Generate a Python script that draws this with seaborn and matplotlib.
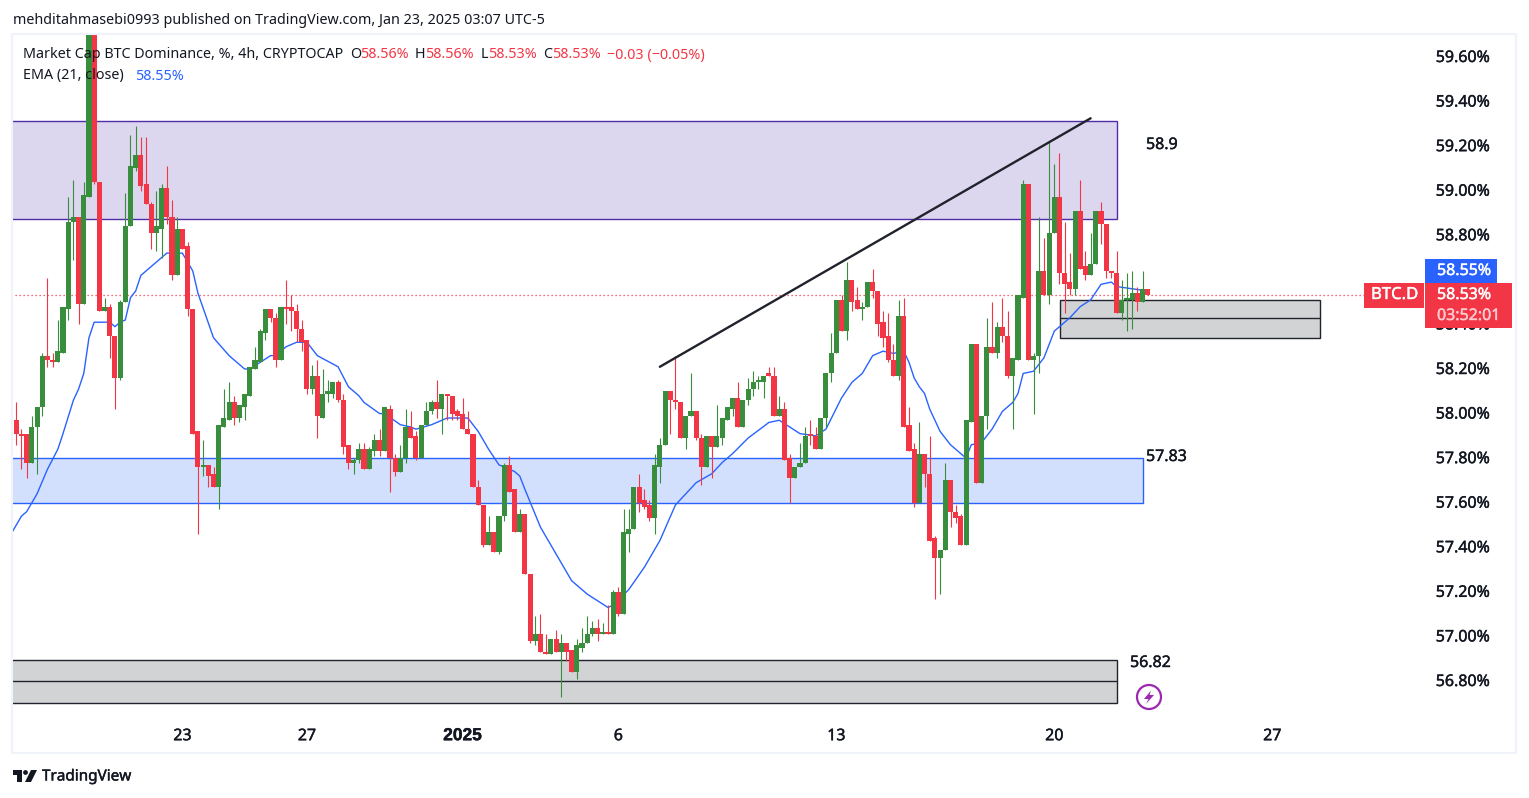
import matplotlib
matplotlib.use('Agg')
from matplotlib import pyplot as plt
from matplotlib import patheffects as pe
from matplotlib.patches import Rectangle, Circle, Polygon
from matplotlib.transforms import ScaledTranslation
import numpy as np
import pandas as pd
import seaborn as sns

sns.set_theme(style='white')
plt.rcParams['font.family'] = ['Noto Sans', 'DejaVu Sans']

# candles, 4h bars
opens = [57.97,57.91,57.91,57.78,57.94,58.03,58.26,58.24,58.23,58.27,
         58.47,58.86,58.88,58.49,58.97,59.78,59.04,58.46,58.48,58.35,
         58.16,58.50,58.84,59.10,59.16,59.03,58.94,58.81,58.83,59.01,
         58.88,58.62,58.83,58.75,58.47,57.92,57.76,57.77,57.73,57.67,
         57.94,57.97,58.05,57.98,58.03,58.08,58.20,58.23,58.36,58.47,
         58.43,58.24,58.48,58.48,58.46,58.38,58.33,58.11,58.17,57.98,
         58.09,58.09,58.14,58.06,57.86,57.78,57.79,57.84,57.75,57.83,
         57.88,57.83,58.02,57.80,57.74,57.80,57.94,57.90,57.80,57.95,
         58.01,58.05,58.02,58.09,58.08,58.01,58.00,57.93,57.91,57.67,
         57.59,57.41,57.47,57.38,57.54,57.77,57.66,57.47,57.55,57.28,
         56.98,57.01,56.93,56.92,56.99,56.93,56.97,56.94,56.84,56.95,
         56.97,57.01,57.04,57.01,57.02,57.01,57.20,57.10,57.46,57.48,
         57.67,57.61,57.59,57.53,57.76,57.86,58.10,58.06,58.05,57.89,
         57.99,58.01,57.89,57.76,57.90,57.85,57.89,57.97,58.02,58.07,
         57.94,58.06,58.11,58.14,58.14,58.18,58.17,57.99,58.02,57.80,
         57.71,57.76,57.78,57.91,57.90,57.84,57.98,58.18,58.27,58.51,
         58.37,58.60,58.51,58.47,58.48,58.59,58.55,58.41,58.35,58.24,
         58.17,58.44,57.95,57.84,57.60,57.82,57.73,57.44,57.35,57.39,
         57.70,57.56,57.54,57.41,57.96,58.31,57.69,57.99,58.30,58.27,
         58.39,58.35,58.17,58.24,58.52,59.03,58.24,58.26,58.64,58.53,
         58.81,58.97,58.63,58.59,58.56,58.91,58.66,58.62,58.67,58.91,
         58.85,58.64,58.63,58.45,58.51,58.51,58.54,58.50,58.56]
closes = [57.91,57.90,57.78,57.94,58.03,58.26,58.24,58.23,58.28,58.48,
          58.86,58.88,58.49,58.98,59.78,59.04,58.46,58.48,58.35,58.16,
          58.50,58.84,59.11,59.16,59.02,58.94,58.81,58.84,59.01,58.88,
          58.62,58.83,58.74,58.47,57.91,57.76,57.77,57.72,57.67,57.95,
          57.98,58.05,57.98,58.04,58.09,58.21,58.24,58.37,58.47,58.43,
          58.24,58.48,58.47,58.46,58.38,58.32,58.11,58.17,57.99,58.09,
          58.10,58.14,58.06,57.85,57.78,57.79,57.84,57.75,57.84,57.88,
          57.83,58.03,57.80,57.74,57.80,57.94,57.89,57.80,57.95,58.01,
          58.05,58.02,58.09,58.08,58.00,57.99,57.93,57.91,57.67,57.59,
          57.41,57.47,57.38,57.54,57.77,57.65,57.47,57.55,57.28,56.98,
          57.01,56.93,56.92,56.99,56.93,56.97,56.93,56.84,56.96,56.97,
          57.01,57.04,57.01,57.02,57.01,57.20,57.10,57.47,57.48,57.67,
          57.60,57.58,57.53,57.77,57.86,58.10,58.06,58.05,57.89,57.99,
          58.01,57.89,57.76,57.90,57.85,57.90,57.98,58.03,58.07,57.94,
          58.06,58.11,58.14,58.15,58.17,58.17,57.99,58.02,57.79,57.71,
          57.76,57.78,57.90,57.90,57.84,57.98,58.18,58.27,58.51,58.37,
          58.60,58.50,58.47,58.48,58.59,58.55,58.40,58.34,58.24,58.17,
          58.44,57.94,57.83,57.60,57.82,57.73,57.43,57.35,57.39,57.70,
          57.56,57.53,57.41,57.97,58.31,57.69,57.99,58.30,58.27,58.39,
          58.35,58.17,58.25,58.53,59.03,58.24,58.26,58.64,58.53,58.81,
          58.97,58.63,58.58,58.56,58.91,58.65,58.62,58.67,58.91,58.85,
          58.64,58.63,58.45,58.51,58.52,58.54,58.50,58.56,58.53]
highs = [58.05,57.93,57.91,57.99,58.03,58.27,58.61,58.27,58.42,58.48,
         58.97,59.05,58.88,59.04,59.85,59.80,59.04,58.52,58.49,58.35,
         58.51,58.99,59.25,59.29,59.24,59.24,58.95,59.00,59.03,59.11,
         58.96,58.88,58.83,58.77,58.47,57.92,57.88,57.77,57.76,57.95,
         58.11,58.14,58.08,58.04,58.09,58.21,58.30,58.38,58.47,58.47,
         58.45,58.48,58.60,58.53,58.49,58.42,58.33,58.22,58.24,58.20,
         58.15,58.14,58.15,58.09,57.86,57.80,57.87,57.87,57.85,57.91,
         57.93,58.03,58.04,57.82,57.86,58.02,58.01,57.92,57.95,58.05,
         58.06,58.15,58.09,58.09,58.08,58.02,58.07,58.01,57.91,57.70,
         57.59,57.54,57.47,57.54,57.78,57.81,57.66,57.57,57.55,57.28,
         57.09,57.10,57.01,56.99,57.03,57.01,56.97,56.94,56.99,57.04,
         57.09,57.07,57.08,57.06,57.14,57.21,57.22,57.57,57.57,57.67,
         57.73,57.66,57.61,57.82,57.89,58.10,58.10,58.26,58.05,57.99,
         58.18,58.01,57.91,57.90,57.90,58.04,57.98,58.03,58.07,58.14,
         58.06,58.16,58.19,58.17,58.17,58.21,58.21,58.08,58.05,57.82,
         57.76,57.87,57.94,57.97,57.94,57.98,58.18,58.36,58.51,58.53,
         58.68,58.60,58.57,58.50,58.59,58.65,58.55,58.46,58.45,58.31,
         58.51,58.52,58.03,57.87,57.96,57.82,57.90,57.45,57.39,57.78,
         57.70,57.59,57.55,57.97,58.31,58.31,57.99,58.43,58.50,58.41,
         58.52,58.46,58.25,58.53,59.05,59.03,58.27,58.88,58.79,59.22,
         59.12,59.17,58.86,58.72,58.91,59.05,58.73,58.81,58.91,58.95,
         58.85,58.64,58.73,58.60,58.63,58.64,58.57,58.64,58.56]
lows = [57.86,57.75,57.71,57.78,57.73,57.99,58.21,58.21,58.23,58.27,
        58.42,58.69,58.40,58.49,58.97,59.03,58.46,58.46,58.25,58.02,
        58.15,58.50,58.84,59.09,59.00,58.94,58.74,58.73,58.70,58.85,
        58.60,58.62,58.74,58.44,57.91,57.46,57.72,57.67,57.67,57.57,
        57.94,57.97,57.95,57.96,57.97,58.08,58.20,58.23,58.33,58.41,
        58.21,58.24,58.40,58.37,58.32,58.28,58.09,58.09,57.89,57.98,
        58.05,58.07,58.05,57.82,57.75,57.73,57.78,57.75,57.75,57.81,
        57.81,57.83,57.65,57.72,57.74,57.78,57.89,57.79,57.80,57.95,
        58.00,57.98,57.91,57.97,57.97,57.97,57.93,57.91,57.67,57.59,
        57.40,57.41,57.38,57.37,57.52,57.65,57.47,57.47,57.28,56.97,
        56.96,56.93,56.92,56.92,56.93,56.73,56.89,56.84,56.81,56.93,
        56.97,57.00,56.98,57.01,57.01,57.01,57.09,57.10,57.38,57.48,
        57.56,57.57,57.52,57.46,57.69,57.86,57.91,58.02,57.89,57.84,
        57.99,57.88,57.68,57.76,57.71,57.85,57.86,57.97,57.99,57.94,
        57.94,58.04,58.08,58.11,58.07,58.17,57.99,57.99,57.79,57.60,
        57.71,57.76,57.78,57.86,57.84,57.84,57.94,58.14,58.27,58.37,
        58.33,58.46,58.47,58.42,58.48,58.52,58.35,58.30,58.23,58.17,
        58.15,57.94,57.83,57.58,57.60,57.67,57.43,57.17,57.19,57.39,
        57.49,57.51,57.41,57.41,57.96,57.69,57.69,57.93,58.27,58.25,
        58.32,58.16,57.93,58.24,58.52,58.24,58.00,58.18,58.53,58.49,
        58.81,58.58,58.45,58.53,58.53,58.65,58.60,58.62,58.67,58.76,
        58.61,58.61,58.45,58.42,58.37,58.38,58.46,58.50,58.53]

# EMA 21
ema_pos = [-1,0,1,2,4,6,8,9,11,12,13,14,15,17,18,19,20,21,22,23,24,26,29,32,34,35,38,41,44,45,
           49,50,52,54,56,57,58,62,64,66,67,70,71,74,76,77,80,83,87,89,91,93,96,97,98,101,
           104,105,107,110,114,115,118,121,124,127,131,134,136,138,141,145,147,151,154,156,
           159,161,163,165,167,169,171,172,173,174,175,176,178,180,183,184,186,188,190,192,
           193,194,196,198,200,203,205,207,209,211,212,218]
ema_vals = [57.46,57.50,57.54,57.56,57.64,57.75,57.84,57.91,58.06,58.11,58.18,58.34,58.41,58.41,58.41,
            58.39,58.41,58.42,58.52,58.55,58.62,58.66,58.72,58.72,58.64,58.54,58.34,58.26,58.20,
            58.20,58.26,58.26,58.30,58.32,58.32,58.29,58.26,58.21,58.12,58.08,58.05,58.00,58.00,
            57.95,57.94,57.93,57.95,57.98,57.98,57.92,57.84,57.77,57.74,57.72,57.66,57.49,57.37,
            57.33,57.25,57.19,57.13,57.14,57.21,57.31,57.43,57.59,57.69,57.73,57.78,57.82,57.89,
            57.96,57.97,57.91,57.90,57.93,58.07,58.14,58.18,58.26,58.28,58.27,58.28,58.23,58.16,
            58.12,58.09,58.02,57.92,57.86,57.80,57.86,57.87,57.93,58.01,58.05,58.09,58.18,58.19,
            58.25,58.37,58.43,58.48,58.51,58.58,58.59,58.57,58.55]

# drawings: (start bar, end bar, top price, bottom price)
supply_zone = (-1, 212.1, 59.315, 58.875)
blue_zone = (-1, 217.1, 57.80, 57.60)
low_zone = (-1, 212.1, 56.893, 56.70, 56.80)
near_zone = (201.1, 251.2, 58.51, 58.34, 58.43)
trend_x = [124.0, 207.0]
trend_y = [58.21, 59.325]

price_ticks = [59.6, 59.4, 59.2, 59.0, 58.8, 58.6, 58.4, 58.2, 58.0, 57.8, 57.6, 57.4, 57.2, 57.0, 56.8]
day_pos = [32, 56, 86, 116, 158, 200, 242]
day_labels = ['23', '27', '2025', '6', '13', '20', '27']
last_price = 58.53

W, H = 1529, 798
GREEN = '#388e3c'
RED = '#f23645'
BLUE = '#2962ff'
TXT = '#131722'
DARK = '#20222c'


def fx(x):
    return x / W


def fy(y):
    return 1 - y / H


def heavy(c, w=0.3):
    return [pe.withStroke(linewidth=w, foreground=c)]


fig = plt.figure(figsize=(W / 100, H / 100), dpi=100, facecolor='white')
# chart area runs px 13..1417 and px 35..715
ax = fig.add_axes([fx(13), fy(715), fx(1417 - 13), (715 - 35) / H])
ax.set_xlim((13 - 16.3) / 5.19, (1417 - 16.3) / 5.19)
ax.set_ylim(59.6 - (715 - 57) / 222.86, 59.6 + (57 - 35) / 222.86)
for s in ax.spines.values():
    s.set_visible(False)

df = pd.DataFrame({'o': opens, 'h': highs, 'l': lows, 'c': closes})
df['i'] = np.arange(len(df))
up = df['c'] >= df['o']
cols = [GREEN if u else RED for u in up]

# zones
ax.add_patch(Rectangle((supply_zone[0], supply_zone[3]), supply_zone[1] - supply_zone[0],
                       supply_zone[2] - supply_zone[3], fc='#dcd7ee', ec='#512da8', lw=1, zorder=1))
ax.add_patch(Rectangle((blue_zone[0], blue_zone[3]), blue_zone[1] - blue_zone[0],
                       blue_zone[2] - blue_zone[3], fc='#d3e0fd', ec=BLUE, lw=1, zorder=1))
for z in (low_zone, near_zone):
    ax.add_patch(Rectangle((z[0], z[3]), z[1] - z[0], z[2] - z[3], fc='#d2d3d5', ec=DARK, lw=1, zorder=1))
    ax.plot([z[0], z[1]], [z[4], z[4]], color=DARK, lw=1, zorder=1)

ax.hlines(last_price, -1, (1364 - 16.3) / 5.19, color=RED, lw=0.9, linestyles=(0, (1, 2.2)), zorder=1.5)

sns.lineplot(x=ema_pos, y=ema_vals, ax=ax, color=BLUE, lw=1, estimator=None, zorder=2, legend=False)

# wicks then bodies
ax.vlines(df['i'], df['l'], df['h'], colors=cols, lw=0.8, zorder=3, snap=True)
ax.bar(df['i'], (df['c'] - df['o']).abs().clip(lower=0.008), bottom=df[['o', 'c']].min(axis=1),
       width=0.98, color=cols, lw=0, zorder=4)

ax.plot(trend_x, trend_y, color=DARK, lw=1.7, zorder=5, solid_capstyle='round')

ax.yaxis.tick_right()
ax.set_yticks(price_ticks)
ylabs = ax.set_yticklabels(['%.2f%%' % p for p in price_ticks], fontsize=11.5, color=TXT, va='center_baseline')
ax.tick_params(axis='y', length=0, pad=13.5)
ax.set_xticks(day_pos)
xlabs = ax.set_xticklabels(day_labels, fontsize=11.5, color=TXT)
ax.tick_params(axis='x', length=0, pad=9.5)
xlabs[2].set_fontfamily('Liberation Sans')
xlabs[2].set_fontweight('bold')
xlabs[2].set_fontsize(12.5)
ax.set_xlabel('')
ax.set_ylabel('')
up_1px = ScaledTranslation(0, 1 / 100, fig.dpi_scale_trans)
for t in ylabs:
    t.set_transform(t.get_transform() + up_1px)
for t in ax.get_yticklabels() + ax.get_xticklabels():
    t.set_path_effects(heavy(TXT))

# frame round the whole chart
fig.add_artist(Rectangle((fx(12), fy(753)), fx(1504), 719 / H, fc='none', ec='#f0f3fa', lw=1.5,
                         transform=fig.transFigure, zorder=6))


def label(x, y, s, color=TXT, size=10.3, stroke=0.0):
    t = fig.text(fx(x), fy(y + 1), s, color=color, fontsize=size, va='center', ha='left', zorder=12)
    if stroke:
        t.set_path_effects(heavy(color, stroke))
    return t


# header
label(13, 20, 'mehditahmasebi0993 published on TradingView.com, Jan 23, 2025 03:07 UTC-5')
label(23, 54, 'Market Cap BTC Dominance, %, 4h, CRYPTOCAP')
for x, s, c in [(350, 'O', TXT), (360, '58.56%', RED), (415, 'H', TXT), (425, '58.56%', RED), (481, 'L', TXT),
                (488, '58.53%', RED), (543, 'C', TXT), (552, '58.53%', RED), (607, '\u22120.03 (\u22120.05%)', RED)]:
    label(x, 54, s, color=c)
label(23, 75, 'EMA (21, close)')
label(135, 75, '58.55%', color=BLUE)

# zone labels
label(1146, 144, '58.9', size=11.5, stroke=0.3)
label(1146, 456, '57.83', size=11.5, stroke=0.3)
label(1130, 662, '56.82', size=11.5, stroke=0.3)

# alert icon
fig.add_artist(Circle((1149, H - 697), 12, fc='none', ec='#9c27b0', lw=1.6, transform=None, zorder=8))
bolt_px = [(1151, 690.5), (1144, 699), (1148.5, 699), (1146, 704), (1154, 695), (1149.5, 695)]
fig.add_artist(Polygon([(fx(a), fy(b)) for a, b in bolt_px], fc='#9c27b0', ec='none',
                       transform=fig.transFigure, zorder=8))


# price pills
def pill(x0, y0, x1, y1, c):
    fig.add_artist(Rectangle((fx(x0), fy(y1)), fx(x1 - x0), (y1 - y0) / H,
                             fc=c, ec='none', transform=fig.transFigure, zorder=10))


pill(1425, 259, 1497, 283, BLUE)
pill(1425, 283, 1512, 328, RED)
pill(1364, 283, 1424, 308, RED)
label(1437, 270, '58.55%', color='white', size=11.5, stroke=0.3)
label(1437, 294, '58.53%', color='white', size=11.5, stroke=0.3)
label(1437, 315, '03:52:01', color='#fbc9ce', size=11.5, stroke=0.3)
label(1371, 294, 'BTC.D', color='white', size=12, stroke=0.3)

# TradingView mark, bottom left
fig.add_artist(Polygon([(fx(13), fy(770)), (fx(22), fy(770)), (fx(22), fy(782)), (fx(17), fy(782)),
                        (fx(17), fy(775)), (fx(13), fy(775))], fc=TXT, ec='none', transform=fig.transFigure, zorder=8))
fig.add_artist(Circle((25.5, H - 772.5), 2.4, fc=TXT, ec='none', transform=None, zorder=8))
fig.add_artist(Polygon([(fx(31), fy(770)), (fx(37), fy(770)), (fx(31), fy(782)), (fx(25), fy(782))],
                       fc=TXT, ec='none', transform=fig.transFigure, zorder=8))
label(42, 776, 'TradingView', size=11, stroke=0.3)

fig.savefig('out.png', dpi=100, facecolor='white')
